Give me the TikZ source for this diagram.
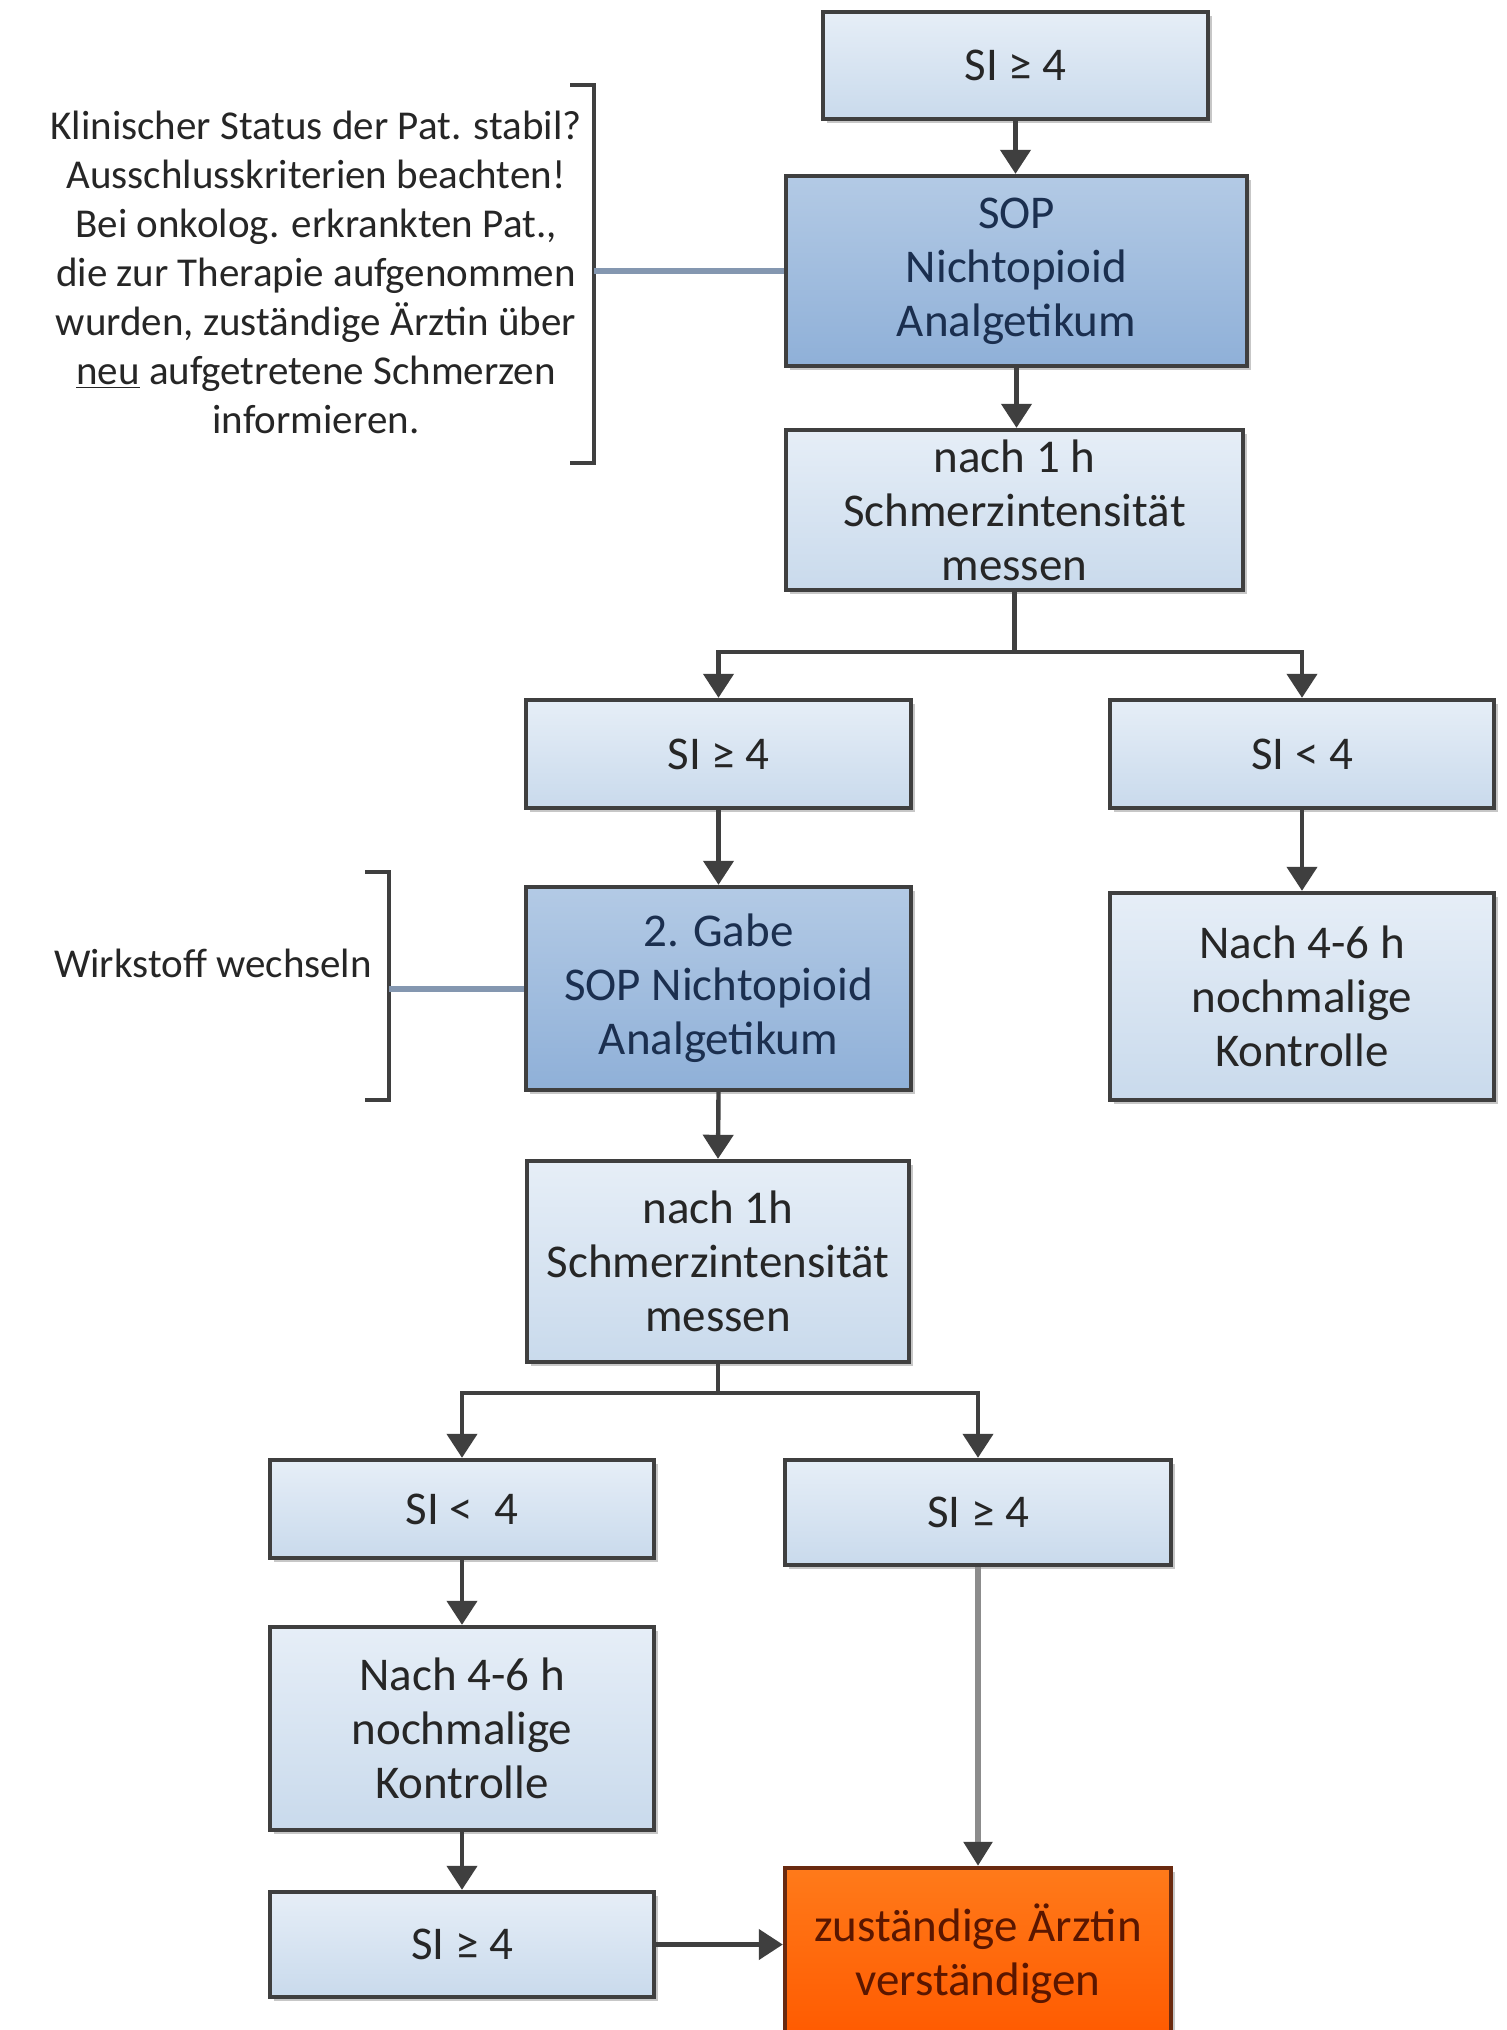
\documentclass[tikz,border=0pt]{standalone}
\usepackage{fontspec}
\setmainfont{Carlito}
\usetikzlibrary{arrows.meta,shadows}
\definecolor{lineC}{HTML}{3F3F3F}
\definecolor{textC}{HTML}{262626}
\definecolor{lightT}{HTML}{E6EEF7}
\definecolor{lightB}{HTML}{C9DAEC}
\definecolor{darkT}{HTML}{B3CAE5}
\definecolor{darkB}{HTML}{8FB0D8}
\definecolor{navy}{HTML}{1B2F4F}
\definecolor{alertT}{HTML}{FF7A1A}
\definecolor{alertB}{HTML}{FF5A00}
\definecolor{alertD}{HTML}{6A2A10}
\definecolor{alertTx}{HTML}{5A1600}
\definecolor{linkC}{HTML}{8497B0}
\definecolor{grayline}{HTML}{8C8C8C}
\tikzset{
  base/.style={draw=lineC, line width=2.2pt, inner sep=0pt, align=center,
    font=\fontsize{23.5}{27}\selectfont,
    drop shadow={shadow xshift=2pt, shadow yshift=-2pt, opacity=0.22, fill=black}},
  lightbox/.style={base, top color=lightT, bottom color=lightB, text=textC},
  darkbox/.style={base, top color=darkT, bottom color=darkB, text=navy},
  alertbox/.style={base, draw=alertD, top color=alertT, bottom color=alertB, text=alertTx},
  arr/.style={draw=lineC, line width=2.2pt, -{Triangle[width=15pt,length=12pt]}},
  grayarr/.style={draw=grayline, line width=2.8pt, -{Triangle[width=14pt,length=12pt,fill=lineC,color=lineC]}},
  link/.style={draw=linkC, line width=3pt},
  brk/.style={draw=lineC, line width=1.6pt},
  note/.style={align=center, font=\fontsize{20.5}{24.5}\selectfont, text=textC}
}
\begin{document}
\begin{tikzpicture}[x=0.5pt,y=-0.5pt]
\path[use as bounding box] (0,0) rectangle (1506,2030);
\clip (0,0) rectangle (1506,2030);
\fill[white] (0,0) rectangle (1506,2030);

% boxes
\node[lightbox, minimum width=192.5pt, minimum height=53.5pt] (A) at (1015.5,65.5) {SI ≥ 4};
\node[darkbox, minimum width=230.5pt, minimum height=95pt] (B) at (1016.5,271) {SOP\\Nichtopioid\\Analgetikum};
\node[lightbox, minimum width=228.5pt, minimum height=80pt] (C) at (1014.5,510) {nach 1 h\\Schmerzintensität\\messen};
\node[lightbox, minimum width=192.5pt, minimum height=54pt] (D) at (718.5,754) {SI ≥ 4};
\node[lightbox, minimum width=192pt, minimum height=54pt] (E) at (1302,754) {SI < 4};
\node[darkbox, minimum width=192.5pt, minimum height=101.5pt] (F) at (718.5,988.5) {2. Gabe\\SOP Nichtopioid\\Analgetikum};
\node[lightbox, minimum width=192pt, minimum height=103.5pt] (G) at (1302,996.5) {Nach 4-6 h\\nochmalige\\Kontrolle};
\node[lightbox, minimum width=191pt, minimum height=100.5pt] (H) at (718,1261.5) {nach 1h\\Schmerzintensität\\messen};
\node[lightbox, minimum width=192pt, minimum height=49pt] (I) at (462,1509) {SI <\ \ 4};
\node[lightbox, minimum width=193pt, minimum height=52.5pt] (J) at (978,1512.5) {SI ≥ 4};
\node[lightbox, minimum width=192pt, minimum height=101.5pt] (K) at (462,1728.5) {Nach 4-6 h\\nochmalige\\Kontrolle};
\node[lightbox, minimum width=192pt, minimum height=52.5pt] (L) at (462,1944.5) {SI ≥ 4};
\node[alertbox, minimum width=193pt, minimum height=86pt] (M) at (978,1954) {zuständige Ärztin\\verständigen};

% notes
\node[note] (N1) at (316,272) {Klinischer Status der Pat. stabil?\\Ausschlusskriterien beachten!\\Bei onkolog. erkrankten Pat.,\\die zur Therapie aufgenommen\\wurden, zuständige Ärztin über\\\underline{neu} aufgetretene Schmerzen\\informieren.};
\node[note] (N2) at (213,963) {Wirkstoff wechseln};

% brackets
\draw[brk] (570,85) -- (594,85) -- (594,463) -- (570,463);
\coordinate (b1) at (594,271);
\draw[brk] (365,872) -- (389,872) -- (389,1100) -- (365,1100);
\coordinate (b2) at (389,988.5);
\draw[link] (b1) -- (B.west);
\draw[link] (b2) -- (F.west);

% arrows
\draw[arr] (A.south) -- (A.south |- B.north);
\draw[arr] (B.south) -- (B.south |- C.north);
\draw[arr] (C.south) -- ++(0,60) -| (D.north);
\draw[arr] (C.south) -- ++(0,60) -| (E.north);
\draw[arr] (D.south) -- (F.north);
\draw[arr] (E.south) -- (G.north);
\draw[arr] (F.south) -- (H.north);
\draw[arr] (H.south) -- ++(0,29) -| (I.north);
\draw[arr] (H.south) -- ++(0,29) -| (J.north);
\draw[arr] (I.south) -- (K.north);
\draw[arr] (K.south) -- (L.north);
\draw[grayarr] (J.south) -- (J.south |- M.north);
\draw[arr] (L.east) -- (L.east -| M.west);
\end{tikzpicture}
\end{document}
